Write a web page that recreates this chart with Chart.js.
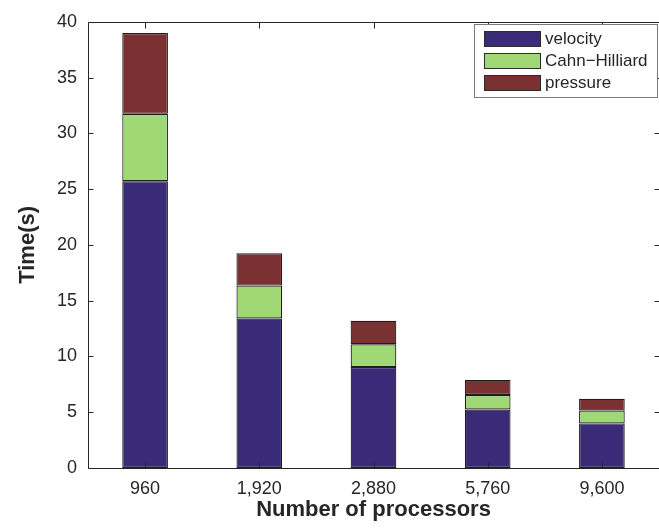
<!DOCTYPE html>
<html>
<head>
<meta charset="utf-8">
<script src="https://cdn.jsdelivr.net/npm/chart.js@4.4.1/dist/chart.umd.min.js"></script>
<style>
  body { margin: 0; background: #fff; }
  #wrap { width: 659px; height: 529px; }
</style>
</head>
<body>
<div id="wrap"><canvas id="grafico" width="659" height="529"></canvas></div>
<script>
const processors = ['960', '1,920', '2,880', '5,760', '9,600'];
const velocity = [25.7, 13.4, 9.05, 5.25, 4.0];
const cahnHilliard = [6.05, 2.95, 2.05, 1.3, 1.15];
const pressure = [7.25, 2.9, 2.1, 1.35, 1.05];
const seriesNames = ['velocity', 'Cahn\u2212Hilliard', 'pressure'];

const axisColor = '#262626';

// MATLAB style box with inward ticks
const boxPlugin = {
  id: 'box',
  afterDatasetsDraw(chart) {
    const ctx = chart.ctx;
    const a = chart.chartArea;
    const xs = chart.scales.x;
    const ys = chart.scales.y;
    const L = Math.round(a.left) + 0.5, R = Math.round(a.right) + 0.5;
    const T = Math.round(a.top) + 0.5, B = Math.round(a.bottom) + 0.5;
    ctx.save();
    ctx.strokeStyle = axisColor;
    ctx.lineWidth = 1;
    ctx.beginPath();
    ctx.moveTo(L, B); ctx.lineTo(L, T); ctx.lineTo(R, T);
    ctx.moveTo(L, B); ctx.lineTo(R, B);
    ctx.moveTo(R, T); ctx.lineTo(R, B);
    ys.ticks.forEach((t, i) => {
      const y = Math.round(ys.getPixelForTick(i)) + 0.5;
      ctx.moveTo(L, y); ctx.lineTo(L + 5, y);
      ctx.moveTo(R, y); ctx.lineTo(R - 5, y);
    });
    xs.ticks.forEach((t, i) => {
      const x = Math.round(xs.getPixelForTick(i)) + 0.5;
      ctx.moveTo(x, T); ctx.lineTo(x, T + 6);
      ctx.moveTo(x, B); ctx.lineTo(x, B - 6);
    });
    ctx.stroke();
    ctx.restore();
  }
};

const legendPlugin = {
  id: 'boxLegend',
  afterDraw(chart) {
    const ctx = chart.ctx;
    const x0 = 474.5, y0 = 24.5, w = 183, h = 73;
    ctx.save();
    ctx.fillStyle = '#fff';
    ctx.fillRect(x0, y0, w, h);
    ctx.strokeStyle = '#7a7a7a';
    ctx.lineWidth = 1;
    ctx.strokeRect(x0, y0, w, h);
    ctx.font = '17px "Liberation Sans", Arial, sans-serif';
    ctx.textBaseline = 'middle';
    ctx.textAlign = 'left';
    chart.data.datasets.forEach((ds, i) => {
      const cy = 39 + i * 22;
      ctx.fillStyle = ds.backgroundColor;
      ctx.fillRect(484.5, cy - 7.5, 56, 15);
      ctx.strokeStyle = '#2b2b2b';
      ctx.strokeRect(484.5, cy - 7.5, 56, 15);
      ctx.fillStyle = axisColor;
      ctx.fillText(ds.label, 545, cy + 0.5);
    });
    ctx.restore();
  }
};

const colors = ['#3a2b79', '#a0d876', '#7b3031'];
const values = [velocity, cahnHilliard, pressure];

const chartData = {
  labels: processors,
  datasets: values.map((v, i) => ({
    label: seriesNames[i],
    data: v,
    backgroundColor: colors[i],
    borderColor: '#1e1e1e',
    borderWidth: 1.2,
    borderSkipped: false,
    barPercentage: 0.4,
    categoryPercentage: 1.0
  }))
};

const tickFont = { family: '"Liberation Sans", Arial, sans-serif', size: 18 };
const titleFont = { family: '"Liberation Sans", Arial, sans-serif', size: 22, weight: 'bold' };

new Chart(document.getElementById('grafico'), {
  type: 'bar',
  data: chartData,
  options: {
    responsive: false,
    animation: false,
    layout: { padding: { top: 17, right: 0, left: 0, bottom: 0 } },
    plugins: {
      legend: { display: false },
      tooltip: { enabled: false }
    },
    scales: {
      x: {
        stacked: true,
        offset: true,
        grid: { display: false, drawTicks: false },
        border: { display: false },
        ticks: { color: axisColor, font: tickFont, padding: 10, maxRotation: 0 },
        title: { display: true, text: 'Number of processors', color: axisColor, font: titleFont, padding: { top: 0, bottom: 6 } },
        afterFit: (s) => { s.height = 61; }
      },
      y: {
        stacked: true,
        min: 0,
        max: 40,
        grid: { display: false, drawTicks: false },
        border: { display: false },
        ticks: { stepSize: 5, color: axisColor, font: tickFont, padding: 11 },
        title: { display: true, text: 'Time(s)', color: axisColor, font: titleFont, padding: { top: 15, bottom: 0 } },
        afterFit: (s) => { s.width = 88; }
      }
    }
  },
  plugins: [boxPlugin, legendPlugin]
});
</script>
</body>
</html>
